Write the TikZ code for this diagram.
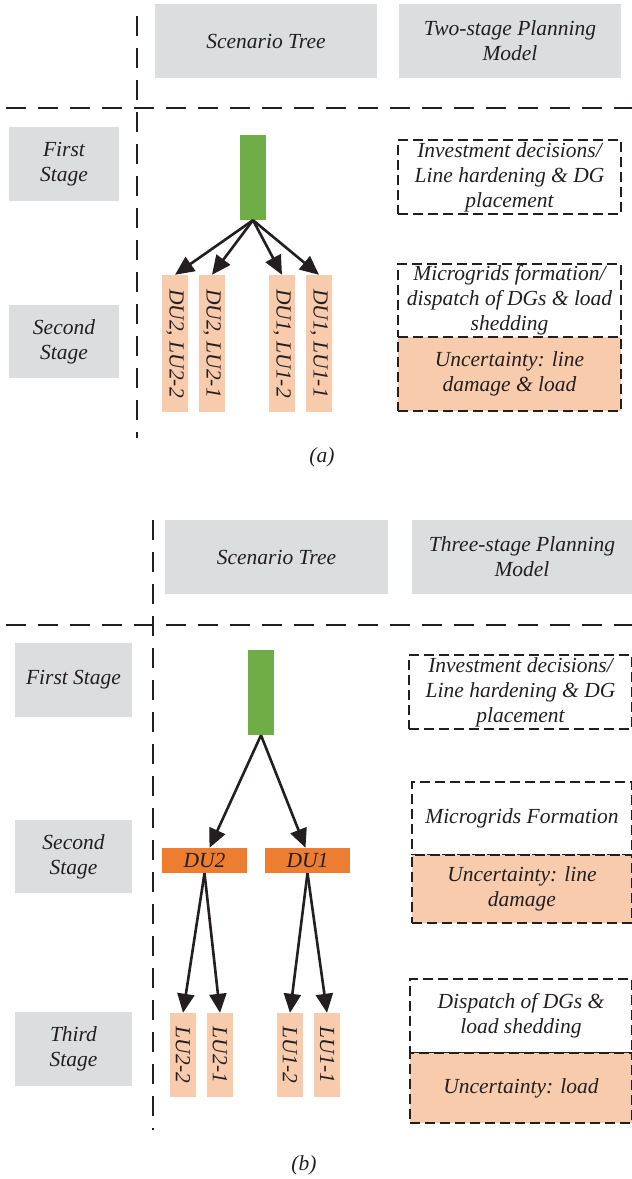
\documentclass[tikz,border=0pt]{standalone}
\usepackage{fontspec}
\setmainfont{Liberation Serif}
\usepackage{graphicx}
\usetikzlibrary{arrows.meta}
\definecolor{graybox}{RGB}{220,221,223}
\definecolor{greenbar}{RGB}{112,173,71}
\definecolor{peach}{RGB}{248,203,173}
\definecolor{orangebox}{RGB}{237,125,49}
\definecolor{ink}{RGB}{35,31,32}
\tikzset{
  every node/.style={text=ink, font=\fontsize{21.5}{25}\selectfont\itshape, inner sep=0pt, align=center},
  gbox/.style={fill=graybox},
  dbox/.style={draw=ink, line width=1.8pt, dash pattern=on 10pt off 5pt},
  pbox/.style={dbox, fill=peach},
  sepline/.style={draw=ink, line width=2.4pt, dash pattern=on 20pt off 12pt},
  arr/.style={draw=ink, line width=2.6pt, -{Triangle[length=19pt,width=17pt]}},
  gbar/.style={fill=greenbar, minimum width=26pt},
  lbar/.style={fill=peach, minimum width=26pt},
}
\begin{document}
\begin{tikzpicture}[x=1pt,y=-1pt]
\useasboundingbox (0,0) rectangle (632,1179);
% ---------------- (a) ----------------
\draw[sepline] (137,16) -- (137,438);
\draw[sepline, dash phase=26pt] (0,108) -- (632,108);
\node[gbox, minimum width=222pt, minimum height=74pt] (sc1) at (266,41) {Scenario Tree};
\node[gbox, minimum width=222pt, minimum height=74pt] (pm1) at (510,41) {Two-stage Planning\\Model};
\node[gbox, minimum width=110pt, minimum height=74pt] (fs1) at (64,164) {First\\Stage};
\node[gbox, minimum width=110pt, minimum height=73pt] (ss1) at (64,341.5) {Second\\Stage};
\node[gbar, minimum height=85pt] (g1) at (253,177.5) {};
\node[lbar, minimum height=137pt] (a1) at (175,343.5) {\rotatebox{-90}{DU2, LU2-2}};
\node[lbar, minimum height=137pt] (a2) at (212,343.5) {\rotatebox{-90}{DU2, LU2-1}};
\node[lbar, minimum height=137pt] (a3) at (282,343.5) {\rotatebox{-90}{DU1, LU1-2}};
\node[lbar, minimum height=137pt] (a4) at (319,343.5) {\rotatebox{-90}{DU1, LU1-1}};
\foreach \t in {a1,a2,a3,a4} \draw[arr] (g1.south) -- (\t.north);
\node[dbox, minimum width=223pt, minimum height=74pt] (inv1) at (509.5,177) {Investment decisions/\\Line hardening \& DG\\placement};
\node[dbox, minimum width=223pt, minimum height=73pt] (mg1) at (509.5,300.5) {Microgrids formation/\\dispatch of DGs \& load\\shedding};
\node[pbox, minimum width=223pt, minimum height=74pt] (un1) at (509.5,374) {Uncertainty: line\\damage \& load};
\node (cap1) at (322,457) {(a)};
% ---------------- (b) ----------------
\draw[sepline] (153,520) -- (153,1130);
\draw[sepline, dash phase=26pt] (0,625) -- (632,625);
\node[gbox, minimum width=223pt, minimum height=74pt] (sc2) at (276.5,557) {Scenario Tree};
\node[gbox, minimum width=220pt, minimum height=74pt] (pm2) at (522,557) {Three-stage Planning\\Model};
\node[gbox, minimum width=117pt, minimum height=74pt] (fs2) at (73.5,680) {First Stage};
\node[gbox, minimum width=117pt, minimum height=73pt] (ss2) at (73.5,856.5) {Second\\Stage};
\node[gbox, minimum width=117pt, minimum height=74pt] (ts2) at (73.5,1049) {Third\\Stage};
\node[gbar, minimum height=85pt] (g2) at (261,692.5) {};
\node[fill=orangebox, minimum width=85pt, minimum height=25pt] (du2) at (204.5,860.5) {DU2};
\node[fill=orangebox, minimum width=85pt, minimum height=25pt] (du1) at (307.5,860.5) {DU1};
\draw[arr] (g2.south) -- ([xshift=5pt]du2.north);
\draw[arr] (g2.south) -- ([xshift=-2pt]du1.north);
\node[lbar, minimum height=84pt] (b1) at (183,1055) {\rotatebox{-90}{LU2-2}};
\node[lbar, minimum height=84pt] (b2) at (220,1055) {\rotatebox{-90}{LU2-1}};
\node[lbar, minimum height=84pt] (b3) at (290,1055) {\rotatebox{-90}{LU1-2}};
\node[lbar, minimum height=84pt] (b4) at (327,1055) {\rotatebox{-90}{LU1-1}};
\draw[arr] (du2.south) -- (b1.north);
\draw[arr] (du2.south) -- (b2.north);
\draw[arr] (du1.south) -- (b3.north);
\draw[arr] (du1.south) -- (b4.north);
\node[dbox, minimum width=223pt, minimum height=74pt] (inv2) at (520.5,692) {Investment decisions/\\Line hardening \& DG\\placement};
\node[dbox, minimum width=220pt, minimum height=73pt] (mg2) at (522,818.5) {Microgrids Formation};
\node[pbox, minimum width=220pt, minimum height=68pt] (un2) at (522,889) {Uncertainty: line\\damage};
\node[dbox, minimum width=222pt, minimum height=74pt] (dp2) at (521,1016) {Dispatch of DGs \&\\load shedding};
\node[pbox, minimum width=222pt, minimum height=70pt] (ul2) at (521,1088) {Uncertainty: load};
\node (cap2) at (304,1165) {(b)};
\end{tikzpicture}
\end{document}
